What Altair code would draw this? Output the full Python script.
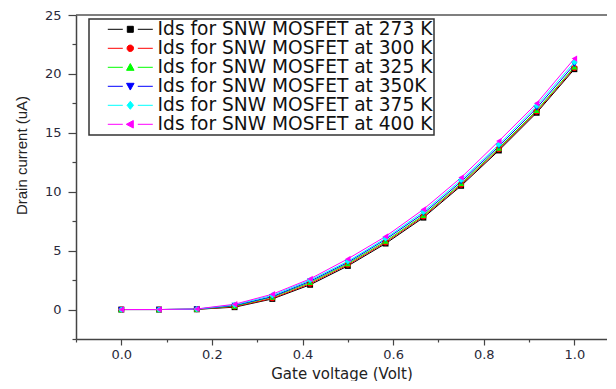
import altair as alt
import pandas as pd

# ---- data ----
gate_v = [0.0, 0.0833, 0.1667, 0.25, 0.3333, 0.4167, 0.5, 0.5833, 0.6667, 0.75, 0.8333, 0.9167, 1.0]
series = [
    "Ids for SNW MOSFET at 273 K",
    "Ids for SNW MOSFET at 300 K",
    "Ids for SNW MOSFET at 325 K",
    "Ids for SNW MOSFET at 350K",
    "Ids for SNW MOSFET at 375 K",
    "Ids for SNW MOSFET at 400 K",
]
ids_273 = [0, 0, 0.02, 0.20, 0.90, 2.10, 3.70, 5.60, 7.80, 10.50, 13.50, 16.70, 20.40]
ids_300 = [0, 0, 0.02, 0.25, 0.95, 2.20, 3.80, 5.70, 7.90, 10.60, 13.60, 16.80, 20.50]
ids_325 = [0, 0, 0.03, 0.30, 1.05, 2.30, 3.90, 5.80, 8.00, 10.70, 13.70, 16.90, 20.60]
ids_350 = [0, 0, 0.03, 0.35, 1.10, 2.40, 4.00, 5.95, 8.15, 10.85, 13.85, 17.10, 20.80]
ids_375 = [0, 0, 0.04, 0.40, 1.20, 2.50, 4.10, 6.05, 8.30, 11.00, 14.00, 17.30, 21.00]
ids_400 = [0, 0, 0.05, 0.45, 1.30, 2.60, 4.30, 6.20, 8.50, 11.20, 14.30, 17.50, 21.30]
all_ids = [ids_273, ids_300, ids_325, ids_350, ids_375, ids_400]

colors = ["#000000", "#ff0000", "#00ff00", "#0000ff", "#00ffff", "#ff00ff"]
shapes = ["square", "circle", "triangle-up", "triangle-down", "diamond", "triangle-left"]
marker_sizes = [35, 40, 50, 50, 50, 90]

x_major = [0.0, 0.2, 0.4, 0.6, 0.8, 1.0]
x_minor = [-0.1, 0.1, 0.3, 0.5, 0.7, 0.9]
y_major = [0, 5, 10, 15, 20, 25]
y_minor = [-2.5, 2.5, 7.5, 12.5, 17.5, 22.5]

# legend symbols: line - marker - line
seg = "M-4.5,0H-1.5M1.5,0H4.5"
legend_paths = [
    seg + "M-0.6,-0.6H0.6V0.6H-0.6Z",
    seg + "M-0.65,0A0.65,0.65 0 1,0 0.65,0A0.65,0.65 0 1,0 -0.65,0Z",
    seg + "M0,-0.75L0.75,0.6H-0.75Z",
    seg + "M0,0.75L0.75,-0.6H-0.75Z",
    seg + "M0,-0.8L0.65,0L0,0.8L-0.65,0Z",
    seg + "M-0.8,0L0.6,-0.75V0.75Z",
]

rows = []
for s, vals in zip(series, all_ids):
    for xv, yv in zip(gate_v, vals):
        rows.append({"Vg": xv, "Ids": yv, "series": s})
df = pd.DataFrame(rows)

FONT = "DejaVu Sans"
x_scale = alt.Scale(domain=[-0.1, 1.072], nice=False, zero=False)
y_scale = alt.Scale(domain=[-2.5, 25], nice=False, zero=False)

x_main = alt.X(
    "Vg:Q", scale=x_scale,
    axis=alt.Axis(
        title="Gate voltage (Volt)", orient="bottom", values=x_major, format=".1f",
        tickSize=6, labelPadding=3, titlePadding=5, titleFontSize=15,
        labelOverlap=False, grid=False,
    ),
)
y_main = alt.Y(
    "Ids:Q", scale=y_scale,
    axis=alt.Axis(
        title="Drain current (uA)", orient="left", values=y_major, format="d",
        tickSize=8, labelPadding=7, titlePadding=15, titleY=140,
        titleFont="Liberation Sans", titleFontSize=15,
        labelOverlap=False, grid=False,
    ),
)
x_none = alt.X("Vg:Q", scale=x_scale, axis=None)
y_none = alt.Y("Ids:Q", scale=y_scale, axis=None)

color_scale = alt.Scale(domain=series, range=colors)

lines = alt.Chart(df).mark_line(strokeWidth=1).encode(
    x=x_main, y=y_main,
    color=alt.Color("series:N", scale=color_scale, legend=None),
)

points = alt.Chart(df).mark_point(filled=True, opacity=1).encode(
    x=x_none, y=y_none,
    color=alt.Color("series:N", scale=color_scale, legend=None),
    shape=alt.Shape("series:N", scale=alt.Scale(domain=series, range=shapes), legend=None),
    size=alt.Size("series:N", scale=alt.Scale(domain=series, range=marker_sizes), legend=None),
)

minor_axes = alt.Chart(df).transform_filter("false").mark_point().encode(
    x=alt.X("Vg:Q", scale=x_scale, axis=alt.Axis(
        title=None, orient="bottom", values=x_minor, labels=False, domain=False, tickSize=3, grid=False)),
    y=alt.Y("Ids:Q", scale=y_scale, axis=alt.Axis(
        title=None, orient="left", values=y_minor, labels=False, domain=False, tickSize=4, grid=False)),
)

leg = alt.Legend(
    title=None,
    orient="none",
    legendX=13,
    legendY=4,
    labelFont=FONT,
    labelFontSize=18.6,
    labelColor="#111111",
    labelLimit=0,
    labelOffset=18,
    symbolOffset=31,
    symbolSize=100,
    symbolStrokeWidth=1,
    symbolOpacity=1,
    padding=1,
    rowPadding=0,
    fillColor="white",
    strokeColor="#333333",
)

legend_layer = alt.Chart(df).transform_filter("false").mark_point(filled=False, size=100, strokeWidth=1).encode(
    x=x_none, y=y_none,
    shape=alt.Shape("series:N", scale=alt.Scale(domain=series, range=legend_paths), legend=leg),
    fill=alt.Fill("series:N", scale=alt.Scale(domain=series, range=colors), legend=leg),
    stroke=alt.Stroke("series:N", scale=alt.Scale(domain=series, range=colors), legend=leg),
)

top_line = alt.Chart(pd.DataFrame({"top": [25]})).mark_rule(color="#555555", strokeWidth=1.5).encode(
    y=alt.Y(datum=25, scale=y_scale, axis=None)
)

chart = (
    alt.layer(lines, points, minor_axes, legend_layer, top_line)
    .resolve_scale(shape="independent", fill="independent", stroke="independent", size="independent")
    .resolve_legend(shape="independent", fill="independent", stroke="independent", size="independent")
    .resolve_axis(x="independent", y="independent")
    .properties(
        width=531,
        height=324,
        autosize=alt.AutoSizeParams(type="none"),
        padding={"left": 68, "top": 7, "right": 0, "bottom": 42},
    )
    .configure_view(stroke=None)
    .configure_axis(
        domainColor="#444444",
        domainWidth=1.5,
        tickColor="#444444",
        tickWidth=1.2,
        labelFont=FONT,
        labelFontSize=13,
        labelColor="#2a2a3a",
        titleFont=FONT,
        titleFontSize=16,
        titleFontWeight="normal",
        titleColor="#222222",
    )
    .configure_legend(strokeWidth=1.5)
)

chart.save("out.html", embed_options={"renderer": "svg", "actions": False})
